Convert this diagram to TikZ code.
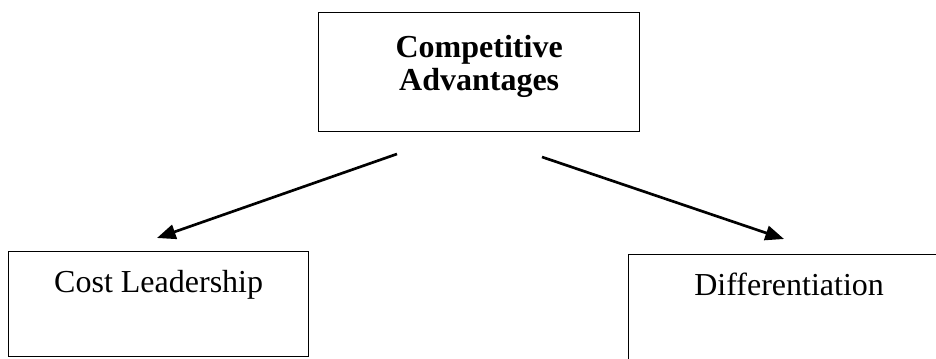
\documentclass[tikz,border=0pt]{standalone}
\usepackage{fontspec}
\setmainfont{Liberation Serif}
\usetikzlibrary{arrows.meta,positioning}
\tikzset{box/.style={draw,line width=1pt,inner sep=0pt,align=center,font=\fontsize{24}{25}\selectfont,anchor=north west}, lowbox/.style={box,minimum width=225pt,text height=30.75pt,text depth=48pt},arr/.style={-{Triangle[length=14pt,width=11pt]},line width=2pt}}
\begin{document}
\begin{tikzpicture}[x=0.75pt,y=-0.75pt]
\useasboundingbox (0,0) rectangle (936,359);
\node[box,font=\fontsize{24}{25}\selectfont\bfseries,minimum width=240.75pt,text height=58.5pt,text depth=30.75pt](adv) at (318,12){Competitive\\Advantages};
\node[lowbox](cost) at (8,251){Cost Leadership};
\node[lowbox,minimum width=240.75pt](diff) at (628,254){Differentiation};
\coordinate (advl) at (397,154);\coordinate (advr) at (542,157);
\coordinate (costin) at (157,238);\coordinate (diffin) at (784,239);
\draw[arr](advl)--(costin);\draw[arr](advr)--(diffin);
\end{tikzpicture}
\end{document}
